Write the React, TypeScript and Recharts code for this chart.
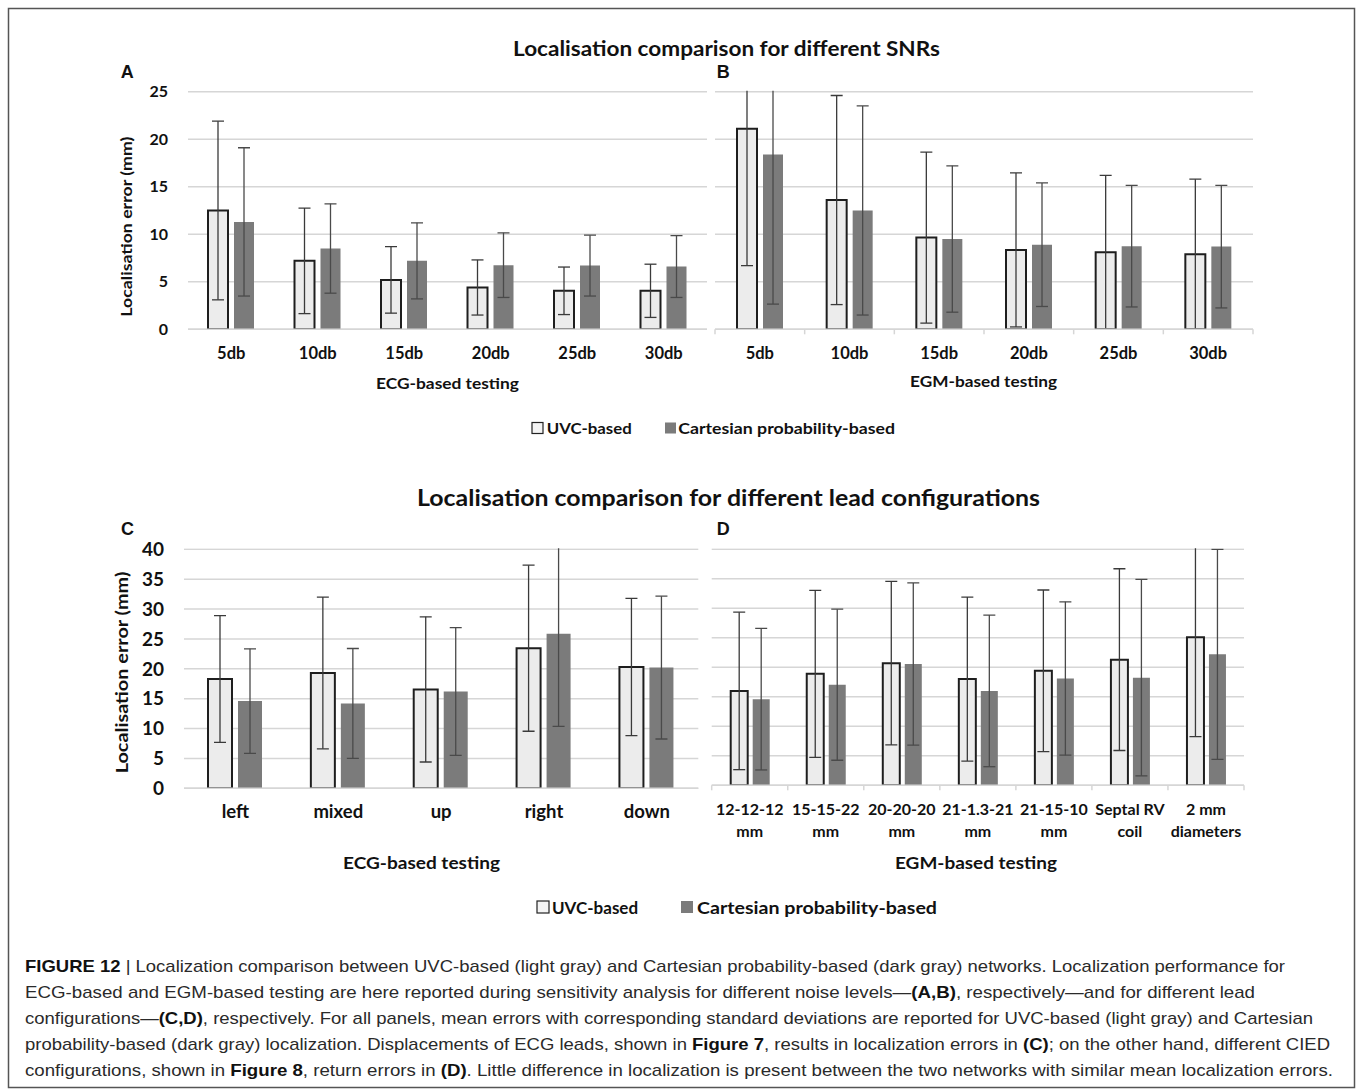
import React from 'react';
import { BarChart, Bar, XAxis, YAxis, CartesianGrid, ErrorBar } from 'recharts';

// panel A / B: noise levels
const snrCategories = ['5db', '10db', '15db', '20db', '25db', '30db'];
const snrTicks = [0, 5, 10, 15, 20, 25];

const ecgSnrUvc = [12.5, 7.2, 5.2, 4.4, 4.05, 4.05];
const ecgSnrUvcSd = [9.4, 5.55, 3.5, 2.9, 2.5, 2.8];
const ecgSnrCart = [11.3, 8.5, 7.2, 6.75, 6.7, 6.6];
const ecgSnrCartSd = [7.8, 4.7, 4.0, 3.4, 3.2, 3.25];

const egmSnrUvc = [21.1, 13.6, 9.65, 8.35, 8.1, 7.9];
const egmSnrUvcSd = [14.4, 11.0, 9.0, 8.1, 8.1, 7.9];
const egmSnrCart = [18.4, 12.5, 9.5, 8.9, 8.75, 8.7];
const egmSnrCartSd = [15.75, 11.0, 7.7, 6.5, 6.4, 6.45];

// panel C / D: lead configurations
const leadCategories = ['left', 'mixed', 'up', 'right', 'down'];
const leadTicks = [0, 5, 10, 15, 20, 25, 30, 35, 40];

const ecgLeadUvc = [18.3, 19.3, 16.55, 23.45, 20.3];
const ecgLeadUvcSd = [10.6, 12.7, 12.15, 13.9, 11.5];
const ecgLeadCart = [14.6, 14.2, 16.2, 25.85, 20.2];
const ecgLeadCartSd = [8.75, 9.2, 10.7, 15.5, 11.95];

const ciedCategories = ['12-12-12 mm', '15-15-22 mm', '20-20-20 mm', '21-1.3-21 mm', '21-15-10 mm', 'Septal RV coil', '2 mm diameters'];
const egmCiedUvc = [16.0, 18.9, 20.7, 18.0, 19.4, 21.3, 25.1];
const egmCiedUvcSd = [13.35, 14.15, 13.85, 13.9, 13.7, 15.4, 16.85];
const egmCiedCart = [14.6, 17.05, 20.55, 16.0, 18.1, 18.25, 22.2];
const egmCiedCartSd = [12.0, 12.8, 13.75, 12.85, 13.0, 16.65, 17.8];

const build = (cats: string[], uvc: number[], uvcSd: number[], cart: number[], cartSd: number[]) =>
  cats.map((cat, i) => ({ cat, uvc: uvc[i], uvcSd: uvcSd[i], cart: cart[i], cartSd: cartSd[i] }));

const chartFont = 'Lato, "Open Sans", sans-serif';
const UVC_FILL = '#ececec';
const UVC_STROKE = '#1e1e1e';
const CART_FILL = '#7b7b7b';
const GRID = '#d6d6d6';

const makeTick = (fontSize: number, gap: number, band: number, edgeTicks: boolean, twoLine: boolean, lastCat: string) =>
  (props: any) => {
    const { x, y, payload } = props;
    const value: string = String(payload.value);
    let lines = [value];
    if (twoLine) {
      const s = value.lastIndexOf(' ');
      lines = [value.slice(0, s), value.slice(s + 1)];
    }
    return (
      <g>
        {edgeTicks && <line x1={x - band / 2} x2={x - band / 2} y1={y} y2={y + 5} stroke={GRID} strokeWidth={1.5} />}
        {edgeTicks && value === lastCat && (
          <line x1={x + band / 2} x2={x + band / 2} y1={y} y2={y + 5} stroke={GRID} strokeWidth={1.5} />
        )}
        {lines.map((l, i) => (
          <text key={i} x={x} y={y + gap + i * 22} dy="0.72em" textAnchor="middle"
            fontFamily={chartFont} fontWeight={700} fontSize={fontSize} fill="#111">{l}</text>
        ))}
      </g>
    );
  };

interface PanelProps {
  left: number; top: number; width: number; height: number;
  margin: { top: number; right: number; bottom: number; left: number };
  data: any[]; cats: string[]; ticks: number[]; max: number;
  showY: boolean; yWidth: number; yFont: number;
  barSize: number; barGap: number; xHeight: number;
  tickFont: number; tickGap: number; edgeTicks: boolean; twoLine: boolean;
}

const Panel = (p: PanelProps) => {
  const plotLeft = p.margin.left + (p.showY ? p.yWidth : 0);
  const plotW = p.width - plotLeft - p.margin.right;
  const band = plotW / p.cats.length;
  // error bars stop at the top of the value axis, as in the original figure;
  // the tick-label column on the left stays unclipped
  const t = p.margin.top - 1;
  const clip = `polygon(0px 0px, ${plotLeft - 2}px 0px, ${plotLeft - 2}px ${t}px, 100% ${t}px, 100% 100%, 0px 100%)`;
  return (
    <div style={{ position: 'absolute', left: p.left, top: p.top, clipPath: clip }}>
      <BarChart width={p.width} height={p.height} data={p.data} margin={p.margin} barGap={p.barGap}>
        <CartesianGrid vertical={false} stroke={GRID} strokeWidth={1.5} />
        <XAxis dataKey="cat" interval={0} height={p.xHeight} tickSize={0} tickMargin={0}
          axisLine={{ stroke: GRID, strokeWidth: 1.5 }} tickLine={false}
          tick={makeTick(p.tickFont, p.tickGap, band, p.edgeTicks, p.twoLine, p.cats[p.cats.length - 1])} />
        <YAxis domain={[0, p.max]} ticks={p.ticks} allowDataOverflow hide={!p.showY} width={p.yWidth}
          axisLine={false} tickLine={false} tickSize={0} tickMargin={20}
          tick={{ fontFamily: chartFont, fontWeight: 700, fontSize: p.yFont, fill: '#111' }} />
        <Bar dataKey="uvc" barSize={p.barSize} fill={UVC_FILL} stroke={UVC_STROKE} strokeWidth={2} isAnimationActive={false}>
          <ErrorBar dataKey="uvcSd" width={6} stroke="#3a3a3a" strokeWidth={1.3} />
        </Bar>
        <Bar dataKey="cart" barSize={p.barSize} fill={CART_FILL} isAnimationActive={false}>
          <ErrorBar dataKey="cartSd" width={6} stroke="#4a4a4a" strokeWidth={1.3} />
        </Bar>
      </BarChart>
    </div>
  );
};

const T = ({ x, y, size, len, anchor = 'middle', weight = 700, family = chartFont, rotate = false, children }: any) => (
  <text x={x} y={y} fontSize={size} fontWeight={weight} fontFamily={family} textAnchor={anchor}
    dominantBaseline="central" textLength={len} lengthAdjust={len ? 'spacingAndGlyphs' : undefined}
    transform={rotate ? `rotate(-90 ${x} ${y})` : undefined} fill="#111">{children}</text>
);

const captionLines: [string, boolean][][] = [
  [['FIGURE 12', true], [' | Localization comparison between UVC-based (light gray) and Cartesian probability-based (dark gray) networks. Localization performance for', false]],
  [['ECG-based and EGM-based testing are here reported during sensitivity analysis for different noise levels\u2014', false], ['(A,B)', true], [', respectively\u2014and for different lead', false]],
  [['configurations\u2014', false], ['(C,D)', true], [', respectively. For all panels, mean errors with corresponding standard deviations are reported for UVC-based (light gray) and Cartesian', false]],
  [['probability-based (dark gray) localization. Displacements of ECG leads, shown in ', false], ['Figure 7', true], [', results in localization errors in ', false], ['(C)', true], ['; on the other hand, different CIED', false]],
  [['configurations, shown in ', false], ['Figure 8', true], [', return errors in ', false], ['(D)', true], ['. Little difference in localization is present between the two networks with similar mean localization errors.', false]],
];
const captionEnds = [1285, 1255, 1313, 1330, 1333];

export default function App() {
  return (
    <div style={{ position: 'absolute', left: 0, top: 0, width: 1357, height: 1091, background: '#fff' }}>
      <Panel left={100} top={60} width={620} height={340}
        margin={{ top: 31.7, right: 13, bottom: 20.7, left: 0 }}
        data={build(snrCategories, ecgSnrUvc, ecgSnrUvcSd, ecgSnrCart, ecgSnrCartSd)} cats={snrCategories}
        ticks={snrTicks} max={25} showY yWidth={88} yFont={16} barSize={20} barGap={6} xHeight={50}
        tickFont={16.5} tickGap={18} edgeTicks={false} twoLine={false} />
      <Panel left={705} top={60} width={560} height={340}
        margin={{ top: 31.7, right: 12, bottom: 20.7, left: 10 }}
        data={build(snrCategories, egmSnrUvc, egmSnrUvcSd, egmSnrCart, egmSnrCartSd)} cats={snrCategories}
        ticks={snrTicks} max={25} showY={false} yWidth={0} yFont={16} barSize={20} barGap={6} xHeight={50}
        tickFont={16.5} tickGap={18} edgeTicks twoLine={false} />
      <Panel left={100} top={520} width={610} height={390}
        margin={{ top: 29.3, right: 11.7, bottom: 61.7, left: 0 }}
        data={build(leadCategories, ecgLeadUvc, ecgLeadUvcSd, ecgLeadCart, ecgLeadCartSd)} cats={leadCategories}
        ticks={leadTicks} max={40} showY yWidth={84} yFont={19} barSize={24} barGap={6} xHeight={60}
        tickFont={18.5} tickGap={16} edgeTicks={false} twoLine={false} />
      <Panel left={700} top={520} width={560} height={390}
        margin={{ top: 29.3, right: 16, bottom: 64.7, left: 11.7 }}
        data={build(ciedCategories, egmCiedUvc, egmCiedUvcSd, egmCiedCart, egmCiedCartSd)} cats={ciedCategories}
        ticks={leadTicks} max={40} showY={false} yWidth={0} yFont={19} barSize={17} barGap={5} xHeight={60}
        tickFont={16} tickGap={18} edgeTicks twoLine />

      <svg width={1357} height={1091} style={{ position: 'absolute', left: 0, top: 0, pointerEvents: 'none' }}>
        <rect x={8.5} y={8.5} width={1346} height={1079} fill="none" stroke="#555" strokeWidth={1.5} />

        <T x={726.5} y={48} size={20} len={427}>Localisation comparison for different SNRs</T>
        <T x={728.5} y={497} size={22} len={623}>Localisation comparison for different lead configurations</T>

        <T x={120.7} y={72} size={18} anchor="start" family="'Liberation Sans', Arial, sans-serif">A</T>
        <T x={716.7} y={72} size={18} anchor="start" family="'Liberation Sans', Arial, sans-serif">B</T>
        <T x={121} y={528.5} size={18} anchor="start" family="'Liberation Sans', Arial, sans-serif">C</T>
        <T x={716.7} y={528.5} size={18} anchor="start" family="'Liberation Sans', Arial, sans-serif">D</T>

        <T x={126} y={226.7} size={15} len={180} rotate>Localisation error (mm)</T>
        <T x={121} y={672.5} size={17} len={201.7} rotate>Localisation error (mm)</T>

        <T x={447.5} y={382.5} size={16} len={143}>ECG-based testing</T>
        <T x={983.6} y={380.5} size={16} len={147}>EGM-based testing</T>
        <T x={421.5} y={862} size={17.5} len={157}>ECG-based testing</T>
        <T x={976} y={862} size={17.5} len={162}>EGM-based testing</T>

        <rect x={532} y={422.5} width={11} height={11} fill="#f4f4f4" stroke="#222" strokeWidth={1.2} />
        <T x={546.7} y={428} size={15} len={85} anchor="start">UVC-based</T>
        <rect x={665} y={422.5} width={11} height={11} fill={CART_FILL} />
        <T x={678.3} y={428} size={15} len={216.7} anchor="start">Cartesian probability-based</T>

        <rect x={537} y={901} width={12} height={12} fill="#f4f4f4" stroke="#222" strokeWidth={1.2} />
        <T x={552} y={907} size={17} anchor="start">UVC-based</T>
        <rect x={681} y={901} width={12} height={12} fill={CART_FILL} />
        <T x={697} y={907} size={17} len={240} anchor="start">Cartesian probability-based</T>

        {captionLines.map((segs, i) => (
          <text key={i} x={25} y={972 + i * 26} fontSize={17} fontFamily="'Liberation Sans', Arial, sans-serif"
            fill="#2a2a2a" textLength={captionEnds[i] - 25} lengthAdjust="spacingAndGlyphs" style={{ whiteSpace: 'pre' }}>
            {segs.map(([t, b], j) => (
              <tspan key={j} fontWeight={b ? 700 : 400} fill={b ? '#111' : '#2a2a2a'}>{t}</tspan>
            ))}
          </text>
        ))}
      </svg>
    </div>
  );
}
